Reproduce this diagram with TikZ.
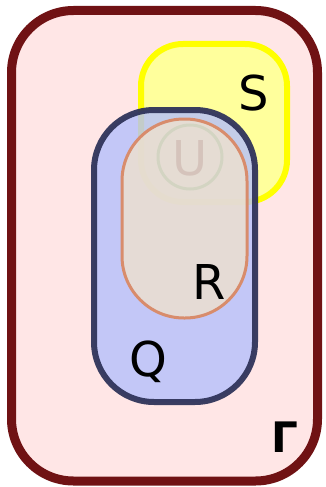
\documentclass[tikz,border=0pt]{standalone}
\usepackage{fontspec}
\setmainfont{DejaVu Sans}
\definecolor{gfill}{HTML}{FFE6E6}
\definecolor{gline}{HTML}{701214}
\definecolor{sfill}{HTML}{FFFF9C}
\definecolor{sline}{HTML}{FFFF00}
\definecolor{qfill}{HTML}{B5C0FC}
\definecolor{qline}{HTML}{30345A}
\definecolor{rfill}{HTML}{ECDFD0}
\definecolor{rline}{HTML}{D88C6C}
\definecolor{uline}{HTML}{C8D0B8}
\definecolor{utext}{HTML}{C8B0A8}
\tikzset{
  lbl/.style={font=\fontsize{48}{56}\selectfont, inner sep=0pt},
}
\begin{document}
\begin{tikzpicture}[x=1pt,y=-1pt]
\useasboundingbox (0,0) rectangle (325,487);
\draw[fill=gfill, draw=gline, line width=9pt, rounded corners=62pt] (11.5,10.5) rectangle (317.5,481);
\draw[fill=sfill, draw=sline, line width=6pt, rounded corners=42pt] (141,44) rectangle (287,202);
\draw[fill=qfill, fill opacity=0.8, draw=qline, draw opacity=0.95, line width=6pt, rounded corners=60pt] (94,110) rectangle (255,402);
\draw[fill=rfill, fill opacity=0.85, draw=rline, line width=3pt, rounded corners=62pt] (122,119) rectangle (247,318);
\node[draw=uline, line width=3pt, circle, minimum size=64pt, draw opacity=0.6] (U) at (190,157) {};
\node[lbl, text=utext, text opacity=0.55] (ut) at (190,158) {U};
\node[lbl] (S) at (254,93) {S};
\node[lbl] (R) at (209,282) {R};
\node[lbl] (Q) at (148,362) {Q};
\node[font=\bfseries\fontsize{42}{50}\selectfont, inner sep=0pt] (G) at (285,437) {Γ};
\end{tikzpicture}
\end{document}
